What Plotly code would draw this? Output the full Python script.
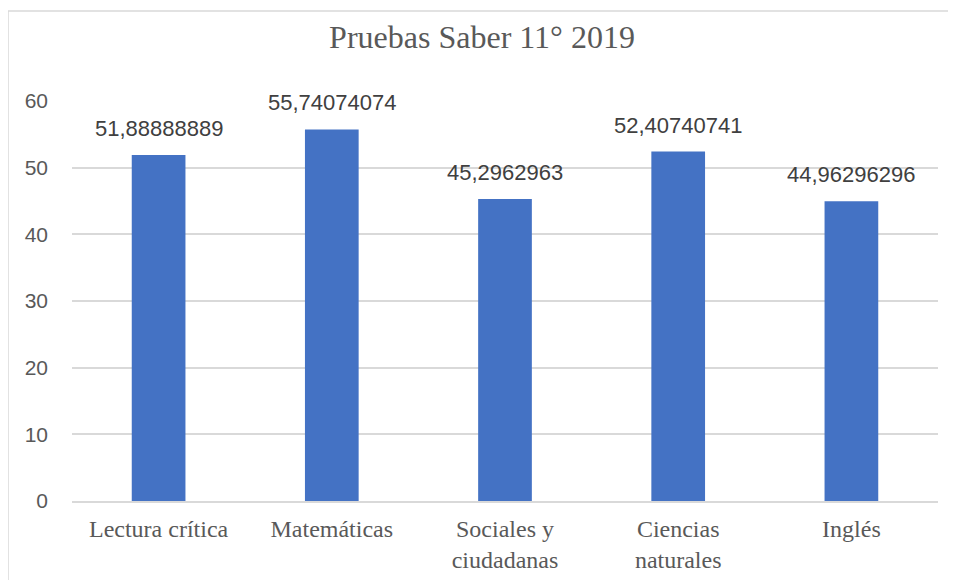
import plotly.graph_objects as go

categorias = ["Lectura crítica", "Matemáticas", "Sociales y<br>ciudadanas", "Ciencias<br>naturales", "Inglés"]
puntajes = [51.88888889, 55.74074074, 45.2962963, 52.40740741, 44.96296296]
etiquetas = [str(v).replace(".", ",") for v in puntajes]

fig = go.Figure()
fig.add_trace(go.Bar(x=categorias, y=puntajes, marker=dict(color="#4472C4", line=dict(width=0)),
                     hoverinfo="x+y"))

# etiquetas de datos sobre cada barra
for c, v, t in zip(categorias, puntajes, etiquetas):
    fig.add_annotation(x=c, y=v, text=t, showarrow=False, yanchor="bottom", yshift=12,
                       font=dict(family="Liberation Sans", size=22, color="#404040"))

# borde del área del gráfico (solo izquierda y arriba visibles)
fig.add_shape(type="line", xref="paper", yref="paper", x0=-0.0739, x1=-0.0739, y0=1.225, y1=-0.3,
              line=dict(color="#D9D9D9", width=1.5))
fig.add_shape(type="line", xref="paper", yref="paper", x0=-0.0739, x1=1.1, y0=1.225, y1=1.225,
              line=dict(color="#D9D9D9", width=1.5))

fig.update_layout(
    width=956, height=580,
    margin=dict(l=64, r=26, t=93, b=87),
    paper_bgcolor="white", plot_bgcolor="white",
    bargap=0.69, showlegend=False,
    title=dict(text="Pruebas Saber 11° 2019", x=474 / 956, xref="container", xanchor="center",
               y=1 - 29 / 580, yref="container", yanchor="middle",
               font=dict(family="Liberation Serif", size=32, color="#595959")),
)
fig.update_xaxes(showline=True, linecolor="#D9D9D9", linewidth=1.5, ticks="",
                 tickfont=dict(family="Liberation Serif", size=24, color="#595959"),
                 ticklabelstandoff=5)
fig.update_yaxes(range=[0, 60], dtick=10, showgrid=True, gridcolor="#D9D9D9", gridwidth=1.5,
                 zeroline=False, showline=False, ticks="",
                 tickfont=dict(family="Liberation Sans", size=21, color="#595959"),
                 ticklabelstandoff=23)

fig.write_html("out.html")
